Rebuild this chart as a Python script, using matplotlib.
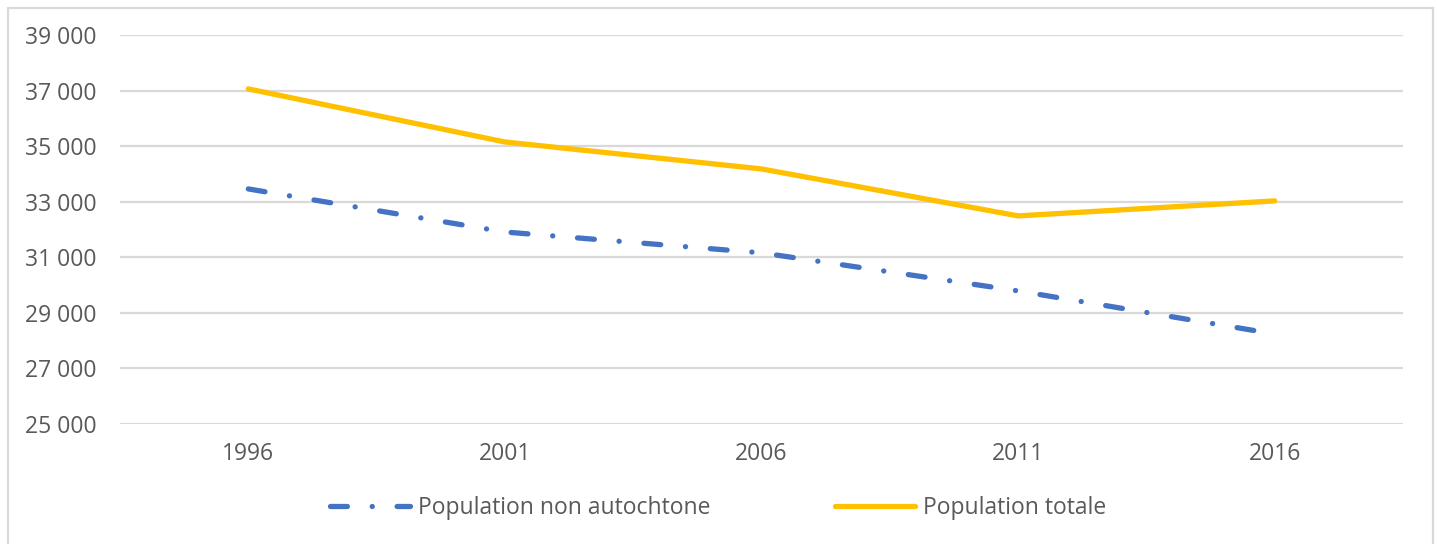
import matplotlib.pyplot as plt
from matplotlib.patches import Rectangle
from matplotlib.ticker import FuncFormatter

years = ['1996', '2001', '2006', '2011', '2016']
pop_totale = [37060, 35150, 34180, 32490, 33030]
pop_non_autochtone = [33460, 31910, 31160, 29790, 28240]

TEXT = '#595959'
GRID = '#d9d9d9'
BLUE = '#4472c4'
GOLD = '#ffc000'

plt.rcParams['font.family'] = ['Open Sans', 'DejaVu Sans']

fig = plt.figure(figsize=(14.37, 5.44), dpi=100)
ax = fig.add_axes([120 / 1437, 1 - 424 / 544, (1403 - 120) / 1437, (424 - 35) / 544])

x = range(len(years))
line_na, = ax.plot(x, pop_non_autochtone, color=BLUE, lw=3.8,
                   solid_capstyle='round', dash_capstyle='round',
                   label='Population non autochtone')
line_na.set_dashes([3.2, 4.7, 0.02, 4.7])
ax.plot(x, pop_totale, color=GOLD, lw=3.8, solid_capstyle='round',
        label='Population totale')

ax.set_xlim(-0.5, len(years) - 0.5)
ax.set_ylim(25000, 39000)
ax.set_yticks(range(25000, 39001, 2000))
ax.yaxis.set_major_formatter(FuncFormatter(lambda v, p: f'{int(v):,}'.replace(',', ' ')))
ax.set_xticks(list(x))
ax.set_xticklabels(years)

ax.grid(axis='y', color=GRID, lw=1.6)
ax.set_axisbelow(True)
for s in ax.spines.values():
    s.set_visible(False)
ax.tick_params(length=0, labelsize=16.5, colors=TEXT)
ax.tick_params(axis='y', pad=17)
ax.tick_params(axis='x', pad=13)

leg = fig.legend(loc='center', bbox_to_anchor=(718 / 1437, 1 - 508 / 544), ncol=2,
                 frameon=False, fontsize=16.5, handlelength=3.5, handletextpad=0.35,
                 columnspacing=5.4)
for t in leg.get_texts():
    t.set_color(TEXT)

# outer chart frame
fig.patches.append(Rectangle((8 / 1437, -0.05), (1433 - 8) / 1437, 1 - 8 / 544 + 0.05,
                             transform=fig.transFigure, fill=False,
                             edgecolor=GRID, lw=1.6))

fig.savefig('out.png', dpi=100, facecolor='white')
